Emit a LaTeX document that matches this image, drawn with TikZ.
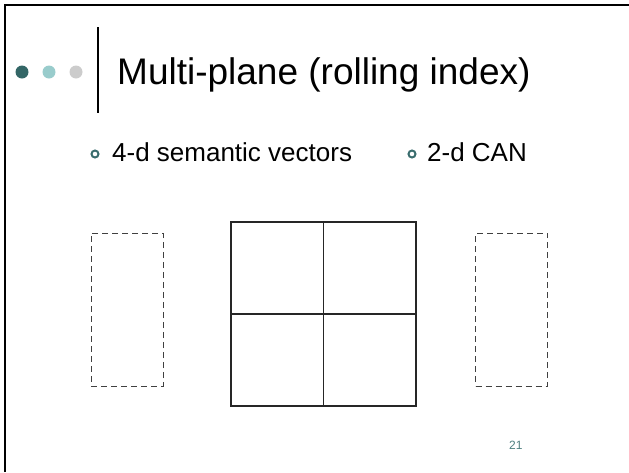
\documentclass[tikz,border=0pt]{standalone}
\usepackage{fontspec}
\setmainfont{Liberation Sans}
\definecolor{tealdark}{HTML}{336666}
\definecolor{teallight}{HTML}{99CCCC}
\definecolor{greylight}{HTML}{CCCCCC}
\definecolor{ringcol}{HTML}{3A6D6E}
\definecolor{numcol}{HTML}{4F7F80}
\definecolor{dashcol}{HTML}{404040}
\tikzset{
  dot/.style={circle, inner sep=0pt, minimum size=13pt},
  ring/.style={circle, draw=ringcol, line width=2pt, inner sep=0pt, minimum size=7pt},
  titletext/.style={anchor=base west, inner sep=0pt, font=\fontsize{37}{40}\selectfont},
  itemtext/.style={anchor=base west, inner sep=0pt, font=\fontsize{26}{30}\selectfont},
  dashbox/.style={draw=dashcol, dash pattern=on 6pt off 4pt, line width=1pt, inner sep=0pt, minimum width=72pt, minimum height=153pt},
  gridline/.style={draw=black!85, line width=1.2pt},
  frame/.style={line width=2pt, black}
}
\begin{document}
\begin{tikzpicture}[x=1pt,y=-1pt]
\useasboundingbox (0,0) rectangle (629,472);
% frame
\coordinate (fa) at (5,472);
\coordinate (fb) at (5,5);
\coordinate (fc) at (629,5);
\draw[frame] (fa) -- (fb) -- (fc);
% title bullets
\node[dot, fill=tealdark] (d1) at (22,72) {};
\node[dot, fill=teallight] (d2) at (49,72) {};
\node[dot, fill=greylight] (d3) at (76,72) {};
\coordinate (vt) at (98,27);
\coordinate (vb) at (98,113);
\draw[line width=1.5pt] (vt) -- (vb);
\node[titletext] (title) at (117,84) {Multi-plane (rolling index)};
% items
\node[ring] (r1) at (95,154) {};
\node[itemtext] (t1) at (112,161) {4-d semantic vectors};
\node[ring] (r2) at (412,154) {};
\node[itemtext] (t2) at (427,161) {2-d CAN};
% dashed boxes
\node[dashbox] (lb) at (127,309.5) {};
\node[dashbox] (rb) at (511.5,309.5) {};
% grid
\node[gridline, inner sep=0pt, minimum width=185pt, minimum height=184pt] (grid) at (323.5,314) {};
\draw[gridline] (grid.north) -- (grid.south);
\draw[gridline] (grid.west) -- (grid.east);
% page number
\node[anchor=base west, inner sep=0pt, font=\fontsize{12}{14}\selectfont, text=numcol] (pn) at (509,449) {21};
\end{tikzpicture}
\end{document}
